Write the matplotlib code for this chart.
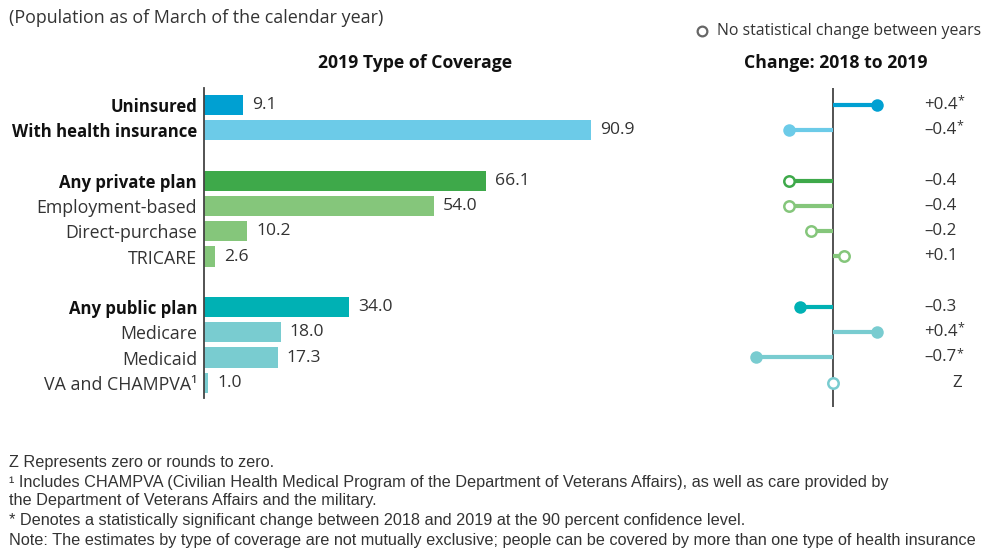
import matplotlib
matplotlib.use("Agg")
import matplotlib.pyplot as plt
from matplotlib.transforms import blended_transform_factory

# --- data -------------------------------------------------------------
categories = ["Uninsured", "With health insurance",
              "Any private plan", "Employment-based", "Direct-purchase", "TRICARE",
              "Any public plan", "Medicare", "Medicaid", "VA and CHAMPVA\u00b9"]
row_pos = [0, 1, 3, 4, 5, 6, 8, 9, 10, 11]
bold_rows = [True, True, True, False, False, False, True, False, False, False]
coverage_2019 = [9.1, 90.9, 66.1, 54.0, 10.2, 2.6, 34.0, 18.0, 17.3, 1.0]
change_18_19 = [0.4, -0.4, -0.4, -0.4, -0.2, 0.1, -0.3, 0.4, -0.7, 0.0]
change_labels = ["+0.4", "\u20130.4", "\u20130.4", "\u20130.4", "\u20130.2", "+0.1",
                 "\u20130.3", "+0.4", "\u20130.7", "Z"]
starred = [True, True, False, False, False, False, False, True, True, False]
filled = [True, True, False, False, False, False, True, True, True, False]
colors = ["#00a0d2", "#6ccbe8", "#3ea94a", "#85c67b", "#85c67b", "#85c67b",
          "#00b1b4", "#79ccd0", "#79ccd0", "#79ccd0"]

FONT = ["Open Sans", "DejaVu Sans"]
NOTE_FONT = ["Liberation Sans", "DejaVu Sans"]
TXT = "#333333"
plt.rcParams["font.family"] = FONT

W, H = 984, 552
fig = plt.figure(figsize=(W / 100, H / 100), dpi=100)


def box(x0, y0, x1, y1):
    return [x0 / W, 1 - y1 / H, (x1 - x0) / W, (y1 - y0) / H]


# --- bar panel --------------------------------------------------------
ax = fig.add_axes(box(204, 88, 630, 398))
ax.barh(row_pos, coverage_2019, height=0.8, color=colors)
ax.set_xlim(0, 100)
ax.set_ylim(11.6, -0.67)
for s in ["top", "right", "bottom"]:
    ax.spines[s].set_visible(False)
ax.spines["left"].set_color("#444444")
ax.spines["left"].set_linewidth(1.3)
ax.set_xticks([])
ax.set_yticks(row_pos)
ax.set_yticklabels(categories)
ax.tick_params(axis="y", length=0, pad=5, labelsize=12.8, labelcolor=TXT)
for lbl, b in zip(ax.get_yticklabels(), bold_rows):
    if b:
        lbl.set_fontweight("bold")
        lbl.set_fontsize(12.1)
        lbl.set_color("#111111")
for y, v in zip(row_pos, coverage_2019):
    ax.annotate(f"{v:.1f}", (v, y), xytext=(6.5, 0), textcoords="offset points",
                va="center", ha="left", fontsize=12.6, color=TXT)

# --- change panel -----------------------------------------------------
ax2 = fig.add_axes(box(700, 88, 900, 407))
ax2.set_xlim(-1.209, 0.609)
ax2.set_ylim(11.96, -0.67)
ax2.axis("off")
ax2.axvline(0, color="#444444", lw=1.3, zorder=1)
for y, d, f, c in zip(row_pos, change_18_19, filled, colors):
    ax2.plot([0, d], [y, y], color=c, lw=3.0, solid_capstyle="butt", zorder=2)
    ax2.plot([d], [y], marker="o", ms=9 if f else 7.5,
             mfc=c if f else "white", mec=c, mew=0 if f else 1.8, zorder=3)

tr = blended_transform_factory(fig.transFigure, ax2.transData)
for y, lab, st in zip(row_pos, change_labels, starred):
    if lab == "Z":
        ax2.text(962 / W, y, lab, transform=tr, ha="right", va="center",
                 fontsize=12.2, color=TXT)
    else:
        t = ax2.text(924 / W, y, lab, transform=tr,
                     ha="left", va="center", fontsize=12.2, color=TXT)
        if st:
            # small raised asterisk right after the number
            ax2.annotate("*", xy=(1, 0.75), xycoords=t, ha="left", va="center",
                         fontsize=9, color=TXT)

# --- headings and legend ----------------------------------------------
def ftext(x, y, s, **kw):
    fig.text(x / W, 1 - y / H, s, **kw)


ftext(9, 18, "(Population as of March of the calendar year)", fontsize=12.9,
      color=TXT, va="center", ha="left")
ftext(415, 63, "2019 Type of Coverage", fontsize=12.7, fontweight="bold",
      color="#111111", va="center", ha="center")
ftext(836, 63, "Change: 2018 to 2019", fontsize=12.7, fontweight="bold",
      color="#111111", va="center", ha="center")
fig.lines.append(plt.Line2D([702 / W], [1 - 31 / H], transform=fig.transFigure,
                            marker="o", ms=7, mfc="white", mec="#666666", mew=1.6))
ftext(717, 31, "No statistical change between years", fontsize=11.4, color=TXT,
      va="center", ha="left")

# --- footnotes --------------------------------------------------------
notes = [
    (462, "Z Represents zero or rounds to zero."),
    (482, "\u00b9 Includes CHAMPVA (Civilian Health Medical Program of the Department of Veterans Affairs), as well as care provided by"),
    (501, "the Department of Veterans Affairs and the military."),
    (521, "* Denotes a statistically significant change between 2018 and 2019 at the 90 percent confidence level."),
    (541, "Note: The estimates by type of coverage are not mutually exclusive; people can be covered by more than one type of health insurance"),
]
for y, s in notes:
    ftext(9, y, s, fontsize=11.7, family=NOTE_FONT, color=TXT, va="center", ha="left")

fig.savefig("out.png", dpi=100, facecolor="white")
